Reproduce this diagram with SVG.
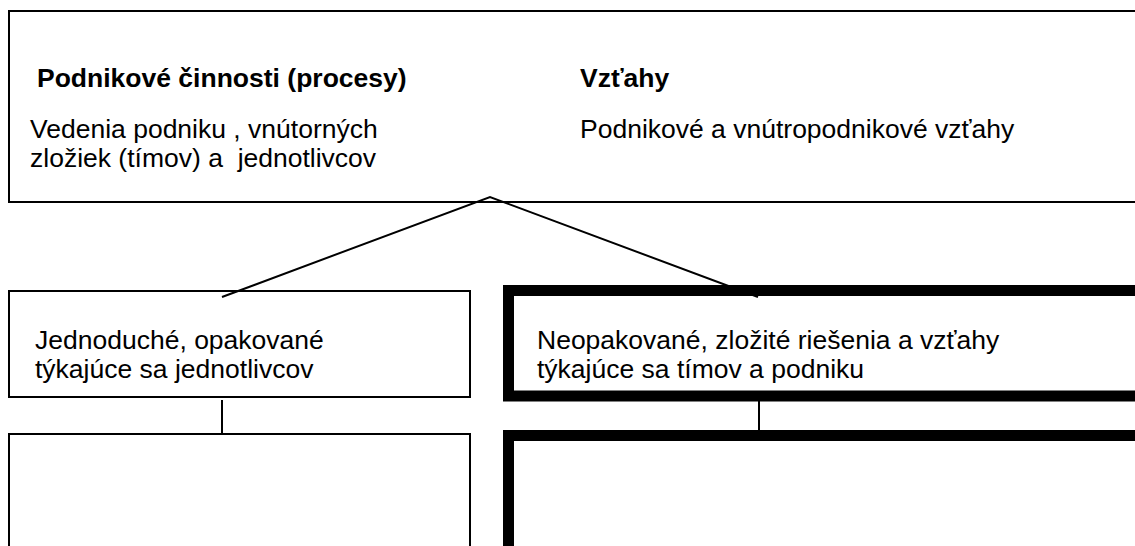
<svg xmlns="http://www.w3.org/2000/svg" width="1135" height="546" viewBox="0 0 1135 546">
<style>
.box{fill:#fff;stroke:#000;stroke-width:2}
.thick{fill:#fff;stroke:#000;stroke-width:11}
.t{font-family:"Liberation Sans",Arial,sans-serif;font-size:26.5px;fill:#000}
.b{font-weight:bold}
.c{fill:none;stroke:#000;stroke-width:2}
</style>
<rect width="1135" height="546" fill="#fff"/>
<g id="top">
<rect class="box" x="9" y="11" width="1140" height="191"/>
<text class="t b" x="37" y="87">Podnikové činnosti (procesy)</text>
<text class="t" x="30" y="138">Vedenia podniku , vnútorných</text>
<text class="t" x="30" y="167" xml:space="preserve">zložiek (tímov) a  jednotlivcov</text>
<text class="t b" x="580" y="87">Vzťahy</text>
<text class="t" x="580" y="138">Podnikové a vnútropodnikové vzťahy</text>
</g>
<g id="simple">
<rect class="box" x="9" y="291" width="461" height="106"/>
<text class="t" x="35" y="349">Jednoduché, opakované</text>
<text class="t" x="35" y="378">týkajúce sa jednotlivcov</text>
</g>
<g id="complex">
<rect class="thick" x="508.5" y="290.5" width="700" height="105.5"/>
<text class="t" x="537" y="349">Neopakované, zložité riešenia a vzťahy</text>
<text class="t" x="537" y="378">týkajúce sa tímov a podniku</text>
</g>
<g id="simple-detail">
<rect class="box" x="9" y="434" width="461" height="200"/>
</g>
<g id="complex-detail">
<rect class="thick" x="508.5" y="435.5" width="700" height="200"/>
</g>
<g id="connectors">
<polyline class="c" points="222,297 490,197 758,297"/>
<line class="c" x1="222" y1="400" x2="222" y2="435"/>
<line class="c" x1="759" y1="401" x2="759" y2="430"/>
</g>
</svg>
